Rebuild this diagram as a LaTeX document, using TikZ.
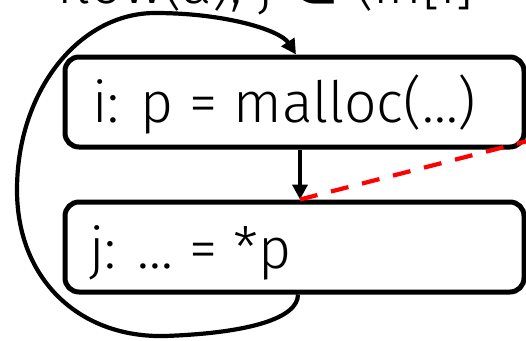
\documentclass[tikz,border=0pt]{standalone}
\usepackage{fontspec}
\setmainfont{Fira Sans}[UprightFont=* Light]
\newfontfamily\symfont{DejaVu Sans}
\usetikzlibrary{arrows.meta}
\begin{document}
\begin{tikzpicture}[x=1pt,y=-1pt,
  stmt/.style={draw, line width=5pt, rounded corners=14pt, minimum width=459pt, minimum height=90pt, inner sep=0pt},
  code/.style={anchor=base west, inner sep=0pt, font=\fontsize{57}{62}\selectfont},
  flow/.style={line width=4.2pt, -{Triangle[length=15pt,width=15pt]}},
  dep/.style={red, line width=4.2pt, dash pattern=on 18pt off 14pt}]
\useasboundingbox (0,0) rectangle (526,340);
\clip (0,0) rectangle (526,340);
\node[anchor=base east, inner sep=0pt, font=\fontsize{57}{62}\selectfont] (head) at (474,3) {flow(a), j {\symfont ∈} (in[i]};
\node[stmt] (i) at (294.5,102) {};
\node[stmt] (j) at (294.5,247) {};
\node[code] (ti) at (92,122) {i: p = malloc(…)};
\node[code] (tj) at (89,268) {j: … = *p};
\coordinate (far) at (600,122.4);
\draw[flow] ([xshift=5.5pt]i.south) -- ([xshift=5.5pt]j.north);
\draw[dep] ([xshift=5.5pt]j.north) -- (far);
\draw[flow] ([xshift=3.5pt]j.south) .. controls (298,318) and (250,333) .. (165,336)
  .. controls (80,338) and (17,280) .. (17,190)
  .. controls (17,90) and (80,13) .. (155,13)
  .. controls (225,13) and (280,30) .. ([xshift=1.5pt]i.north);
\end{tikzpicture}
\end{document}
